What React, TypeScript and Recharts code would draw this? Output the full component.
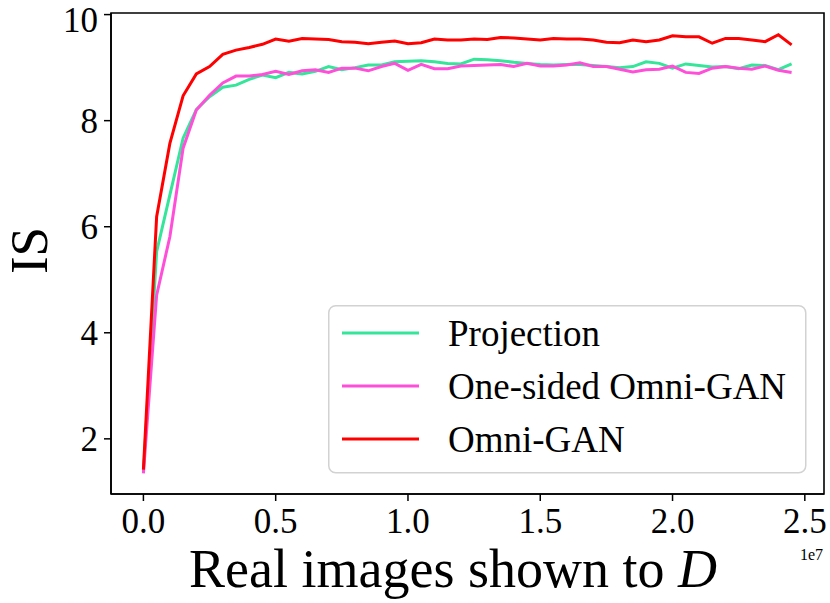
import { LineChart, Line, XAxis, YAxis, ReferenceArea, Legend } from 'recharts';

// training progress, in units of 1e7 real images
const steps = [
  0, 0.05, 0.1, 0.15, 0.2, 0.25, 0.3, 0.35, 0.4, 0.45,
  0.5, 0.55, 0.6, 0.65, 0.7, 0.75, 0.8, 0.85, 0.9, 0.95,
  1.0, 1.05, 1.1, 1.15, 1.2, 1.25, 1.3, 1.35, 1.4, 1.45,
  1.5, 1.55, 1.6, 1.65, 1.7, 1.75, 1.8, 1.85, 1.9, 1.95,
  2.0, 2.05, 2.1, 2.15, 2.2, 2.25, 2.3, 2.35, 2.4, 2.45,
];

const projection = [
  1.38, 5.53, 6.6, 7.67, 8.21, 8.45, 8.63, 8.67, 8.78, 8.86,
  8.81, 8.91, 8.88, 8.93, 9.02, 8.96, 9.0, 9.05, 9.05, 9.11,
  9.12, 9.13, 9.11, 9.08, 9.07, 9.16, 9.15, 9.13, 9.1, 9.08,
  9.06, 9.05, 9.06, 9.06, 9.04, 9.02, 9.0, 9.02, 9.11, 9.08,
  8.99, 9.07, 9.04, 9.01, 9.02, 8.98, 9.05, 9.04, 8.96, 9.07,
];

const oneSided = [
  1.35, 4.71, 5.81, 7.48, 8.2, 8.48, 8.71, 8.84, 8.84, 8.87,
  8.93, 8.87, 8.94, 8.96, 8.91, 8.99, 8.99, 8.94, 9.02, 9.08,
  8.95, 9.06, 8.98, 8.98, 9.03, 9.04, 9.05, 9.06, 9.02, 9.08,
  9.03, 9.03, 9.05, 9.09, 9.02, 9.02, 8.97, 8.92, 8.96, 8.97,
  9.03, 8.91, 8.89, 8.99, 9.02, 8.99, 8.97, 9.03, 8.95, 8.91,
];

const omniGan = [
  1.42, 6.19, 7.57, 8.47, 8.88, 9.02, 9.25, 9.33, 9.38, 9.44,
  9.54, 9.5, 9.55, 9.54, 9.53, 9.49, 9.48, 9.45, 9.48, 9.5,
  9.45, 9.47, 9.54, 9.52, 9.52, 9.54, 9.53, 9.57, 9.56, 9.54,
  9.52, 9.55, 9.54, 9.54, 9.52, 9.48, 9.47, 9.52, 9.49, 9.52,
  9.6, 9.58, 9.58, 9.46, 9.55, 9.55, 9.52, 9.49, 9.62, 9.43,
];

const seriesNames = ['Projection', 'One-sided Omni-GAN', 'Omni-GAN'];
const xTicks = [0, 0.5, 1, 1.5, 2, 2.5];
const yTicks = [2, 4, 6, 8, 10];

const data = steps.map((s, i) => ({
  step: s,
  projection: projection[i],
  oneSided: oneSided[i],
  omni: omniGan[i],
}));

const X_DOMAIN: [number, number] = [-0.1225, 2.5725];
const Y_DOMAIN: [number, number] = [0.96, 10.03];
const FONT = '"Liberation Serif", "Times New Roman", serif';

const tickStyle = { fill: '#000', fontSize: 35, fontFamily: FONT };

function renderXLabel() {
  return (
    <g>
      <text x={189} y={587} fontSize={54} fontFamily={FONT} fill="#000">
        <tspan>Real images shown to </tspan>
        <tspan fontStyle="italic">D</tspan>
      </text>
      <text x={823} y={560} fontSize={16} fontFamily={FONT} fill="#000" textAnchor="end">
        1e7
      </text>
    </g>
  );
}

function renderYLabel() {
  return (
    <text
      x={47}
      y={250.5}
      fontSize={53}
      fontFamily={FONT}
      fill="#000"
      textAnchor="middle"
      transform="rotate(-90, 47, 250.5)"
    >
      IS
    </text>
  );
}

function renderLegend(props: any) {
  const items = [...(props.payload || [])].sort(
    (a: any, b: any) => seriesNames.indexOf(a.value) - seriesNames.indexOf(b.value)
  );
  return (
    <svg width={480} height={170} style={{ display: 'block' }}>
      <rect x={0.75} y={0.75} width={477} height={167} rx={7} fill="#fff" fillOpacity={0.8} stroke="#d2d2d2" strokeWidth={1.5} />
      {items.map((item: any, i: number) => (
        <g key={item.value}>
          <line x1={14} x2={91} y1={28 + 53 * i} y2={28 + 53 * i} stroke={item.color} strokeWidth={3} />
          <text x={120} y={41 + 53 * i} fontSize={37} fontFamily={FONT} fill="#000">
            {item.value}
          </text>
        </g>
      ))}
    </svg>
  );
}

export default function App() {
  return (
    <div style={{ position: 'absolute', left: 0, top: 0, background: '#fff' }}>
      <LineChart width={830} height={603} data={data} margin={{ top: 13, right: 6, bottom: 0, left: 0 }}>
        <XAxis
          dataKey="step"
          type="number"
          domain={X_DOMAIN}
          ticks={xTicks}
          allowDataOverflow
          tickFormatter={(v: number) => v.toFixed(1)}
          height={109}
          tickSize={7}
          tickMargin={7}
          tick={tickStyle}
          axisLine={{ stroke: '#000', strokeWidth: 1.6 }}
          tickLine={{ stroke: '#000', strokeWidth: 1.5 }}
          label={renderXLabel}
        />
        <YAxis
          type="number"
          domain={Y_DOMAIN}
          ticks={yTicks}
          allowDataOverflow
          width={111}
          tickSize={7}
          tickMargin={6}
          tick={tickStyle}
          axisLine={{ stroke: '#000', strokeWidth: 1.6 }}
          tickLine={{ stroke: '#000', strokeWidth: 1.5 }}
          label={renderYLabel}
        />
        <ReferenceArea
          x1={X_DOMAIN[0]}
          x2={X_DOMAIN[1]}
          y1={Y_DOMAIN[0]}
          y2={Y_DOMAIN[1]}
          fill="none"
          fillOpacity={0}
          stroke="#000"
          strokeWidth={1.6}
          ifOverflow="visible"
        />
        <Line type="linear" dataKey="projection" name={seriesNames[0]} stroke="#35e59a" strokeWidth={3} dot={false} isAnimationActive={false} />
        <Line type="linear" dataKey="oneSided" name={seriesNames[1]} stroke="#ff4fd9" strokeWidth={3} dot={false} isAnimationActive={false} />
        <Line type="linear" dataKey="omni" name={seriesNames[2]} stroke="#ff0000" strokeWidth={3} dot={false} isAnimationActive={false} />
        <Legend
          layout="horizontal"
          verticalAlign="middle"
          align="center"
          content={renderLegend}
          wrapperStyle={{ position: 'absolute', left: 328, top: 305, width: 480, height: 170 }}
        />
      </LineChart>
    </div>
  );
}
